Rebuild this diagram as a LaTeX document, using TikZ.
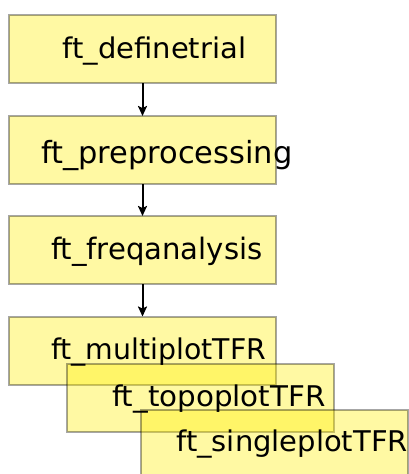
\documentclass[tikz,border=0pt]{standalone}
\usepackage{fontspec}
\usepackage{graphicx}
\setmainfont{DejaVu Sans}
\usetikzlibrary{arrows.meta}
\definecolor{boxfill}{RGB}{255,238,0}
\newcommand{\fitlabel}[3]{\resizebox{#2}{\height}{\fontsize{#1}{#1}\selectfont #3}}
\tikzset{
  box/.style={rectangle, draw=black, draw opacity=0.35, line width=2pt,
    fill=boxfill, fill opacity=0.36, minimum width=267pt, minimum height=68pt,
    inner sep=0pt, outer sep=0pt},
  lbl/.style={anchor=base west, inner sep=0pt, outer sep=0pt, text=black},
  conn/.style={line width=2pt, draw=black, -{Stealth[length=10pt,width=9pt,inset=2pt]}}
}
\begin{document}
\begin{tikzpicture}[x=1pt,y=-1pt]
\useasboundingbox (0,0) rectangle (409,474);
\node[box] (b1) at (142.5,49) {};
\node[box] (b2) at (142.5,150) {};
\node[box] (b3) at (142.5,250) {};
\node[box] (b4) at (142.5,350.5) {};
\node[box] (b5) at (200.5,398) {};
\node[box] (b6) at (274,444) {};
\node[lbl] (t1) at (62.6,58.3) {\fitlabel{28.5}{183.5pt}{ft\_definetrial}};
\node[lbl] (t2) at (41,163) {\fitlabel{30.5}{251.5pt}{ft\_preprocessing}};
\node[lbl] (t3) at (51,259.3) {\fitlabel{29.5}{211.5pt}{ft\_freqanalysis}};
\node[lbl] (t4) at (51,359.3) {\fitlabel{28.5}{215pt}{ft\_multiplotTFR}};
\node[lbl] (t5) at (112,406) {\fitlabel{28.5}{213.5pt}{ft\_topoplotTFR}};
\node[lbl] (t6) at (176.3,451.7) {\fitlabel{28.5}{231.5pt}{ft\_singleplotTFR}};
\draw[conn] (b1.south) -- (b2.north);
\draw[conn] (b2.south) -- (b3.north);
\draw[conn] (b3.south) -- (b4.north);
\end{tikzpicture}
\end{document}
